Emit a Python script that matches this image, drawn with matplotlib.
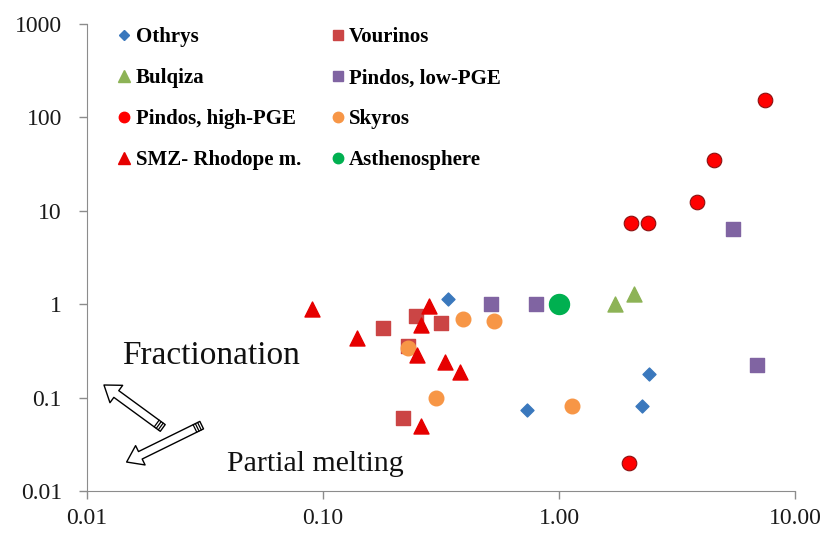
import numpy as np
import matplotlib.pyplot as plt
from matplotlib.lines import Line2D
from matplotlib.patches import FancyArrowPatch

plt.rcParams['font.family'] = ['Liberation Serif', 'DejaVu Serif']

# data
othrys_x = [0.34, 0.73, 2.41, 2.25]
othrys_y = [1.13, 0.073, 0.18, 0.081]

vourinos_x = [0.18, 0.248, 0.316, 0.229, 0.218]
vourinos_y = [0.55, 0.74, 0.63, 0.355, 0.06]

bulqiza_x = [1.73, 2.08]
bulqiza_y = [1.0, 1.28]

pindos_low_x = [0.515, 0.80, 5.46, 6.9]
pindos_low_y = [1.0, 1.0, 6.35, 0.222]

pindos_high_x = [7.46, 4.54, 3.84, 2.02, 2.38, 1.98]
pindos_high_y = [153, 34.8, 12.4, 7.37, 7.37, 0.02]

skyros_x = [0.392, 0.53, 0.229, 0.301, 1.135]
skyros_y = [0.69, 0.66, 0.34, 0.10, 0.081]

smz_x = [0.09, 0.139, 0.281, 0.26, 0.25, 0.329, 0.381, 0.26]
smz_y = [0.88, 0.43, 0.95, 0.60, 0.284, 0.24, 0.19, 0.05]

astheno_x = [1.0]
astheno_y = [1.0]

xticks = [0.01, 0.1, 1, 10]
xticklabels = ['0.01', '0.10', '1.00', '10.00']
yticks = [0.01, 0.1, 1, 10, 100, 1000]
yticklabels = ['0.01', '0.1', '1', '10', '100', '1000']

fig = plt.figure(figsize=(8.26, 5.36), dpi=100)
ax = fig.add_axes([0.1053, 0.084, 0.8572, 0.871])
AX_W, AX_H = 708.0, 467.0  # axes size in pixels

ax.scatter(othrys_x, othrys_y, marker='D', s=6.6**2, color='#3A78BD', zorder=3)
ax.scatter(vourinos_x, vourinos_y, marker='s', s=10.5**2, color='#CB4545', zorder=3)
ax.scatter(bulqiza_x, bulqiza_y, marker='^', s=10.8**2, color='#8DB356', zorder=3)
ax.scatter(pindos_low_x, pindos_low_y, marker='s', s=10.5**2, color='#8064A2', zorder=3)
ax.scatter(pindos_high_x, pindos_high_y, marker='o', s=10.5**2, color='#FF0000',
           edgecolor='#8B1010', linewidth=0.8, zorder=3)
ax.scatter(skyros_x, skyros_y, marker='o', s=10.5**2, color='#F79646', zorder=4)
ax.scatter(smz_x, smz_y, marker='^', s=10.8**2, color='#E60000', zorder=4)
ax.scatter(astheno_x, astheno_y, marker='o', s=14.4**2, color='#00B050', zorder=3)

ax.set_xscale('log')
ax.set_yscale('log')
ax.set_xlim(0.01, 10)
ax.set_ylim(0.01, 1000)
ax.set_xticks(xticks)
ax.set_xticklabels(xticklabels)
ax.set_yticks(yticks)
ax.set_yticklabels(yticklabels)
ax.minorticks_off()

for s in ['top', 'right']:
    ax.spines[s].set_visible(False)
for s in ['left', 'bottom']:
    ax.spines[s].set_color('#8C8C8C')
ax.tick_params(axis='both', direction='out', length=6, width=1, color='#8C8C8C',
               labelsize=17, labelcolor='#1a1a1a')
ax.tick_params(axis='y', pad=12)
ax.tick_params(axis='x', pad=6.5)

# legend
labels = ['Othrys', 'Bulqiza', 'Pindos, high-PGE', 'SMZ- Rhodope m.',
          'Vourinos', 'Pindos, low-PGE', 'Skyros', 'Asthenosphere']
styles = [('D', '#3A78BD', 5), ('^', '#8DB356', 8), ('o', '#FF0000', 7.5), ('^', '#E60000', 8),
          ('s', '#CB4545', 7.5), ('s', '#8064A2', 7.5), ('o', '#F79646', 7.5), ('o', '#00B050', 7.5)]
handles = [Line2D([], [], linestyle='none', marker=m, color=c, markersize=ms) for m, c, ms in styles]
ax.legend(handles, labels, ncol=2, loc='upper left', bbox_to_anchor=(0.044, 0.993),
          frameon=False, borderpad=0, borderaxespad=0, handlelength=0.6,
          handletextpad=0.25, labelspacing=1.0, columnspacing=1.45,
          prop={'family': 'Liberation Serif', 'weight': 'bold', 'size': 15})

# process arrows (hollow, with ringed tail)
def hollow_arrow(tail, head):
    a = FancyArrowPatch(tail, head, transform=ax.transAxes,
                        arrowstyle='simple,head_width=1.55,head_length=1.1,tail_width=0.6',
                        mutation_scale=10, facecolor='white', edgecolor='black', linewidth=1.0,
                        shrinkA=0, shrinkB=0, zorder=5)
    ax.add_patch(a)
    dx = (head[0] - tail[0]) * AX_W
    dy = (head[1] - tail[1]) * AX_H
    n = np.hypot(dx, dy)
    ux, uy = dx / n, dy / n
    px, py = -uy, ux
    for d in (2.5, 5.0, 7.5):
        cx = tail[0] * AX_W + ux * d
        cy = tail[1] * AX_H + uy * d
        ax.plot([(cx - px * 4) / AX_W, (cx + px * 4) / AX_W],
                [(cy - py * 4) / AX_H, (cy + py * 4) / AX_H],
                color='black', linewidth=0.9, transform=ax.transAxes, zorder=6)

hollow_arrow((0.107, 0.135), (0.024, 0.227))
hollow_arrow((0.162, 0.141), (0.056, 0.062))

ax.text(0.049, 0.289, 'Fractionation', transform=ax.transAxes, fontsize=24,
        va='center', ha='left', color='#111111')
ax.text(0.198, 0.058, 'Partial melting', transform=ax.transAxes, fontsize=21.5,
        va='center', ha='left', color='#111111')

fig.savefig('out.png', dpi=100)
